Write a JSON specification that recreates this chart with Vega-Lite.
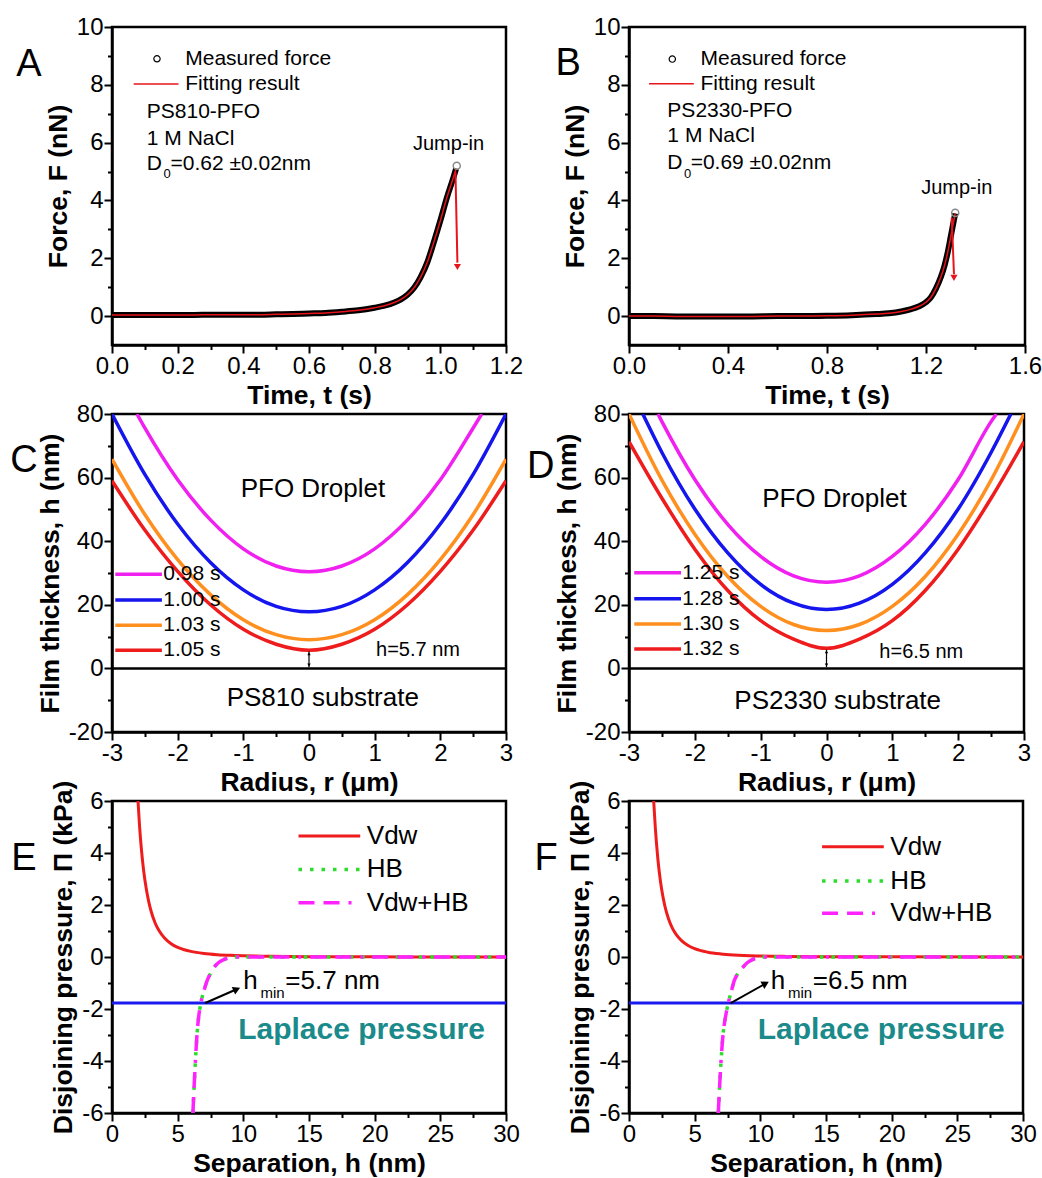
{
"$schema": "https://vega.github.io/schema/vega-lite/v6.json",
"background": "white",
"padding": {"left": 9, "top": 13, "right": 5, "bottom": 5},
"columns": 2,
"spacing": {"row": 69, "column": 123},
"bounds": "flush",
"resolve": {"scale": {"color": "independent"}},
"config": {
  "font": "Liberation Sans",
  "view": {"stroke": "black", "strokeWidth": 2.5},
  "axis": {"domainColor": "black", "domainWidth": 2.5, "tickColor": "black", "tickWidth": 2, "labelColor": "black", "labelFont": "Liberation Sans", "labelFontSize": 24, "labelPadding": 1, "titleFont": "Liberation Sans", "titleFontSize": 26.5, "titleFontWeight": "bold", "titleColor": "black", "grid": false, "labelFlush": false, "labelOverlap": false, "titlePadding": 4}
},
"concat": [
{
  "width": 394, "height": 318,
  "encoding": {
    "x": {"field": "x", "type": "quantitative", "scale": {"domain": [0, 1.2], "nice": false, "zero": false},
      "axis": {"title": "Time, t (s)", "values": [0,0.1,0.2,0.3,0.4,0.5,0.6,0.7,0.8,0.9,1,1.1,1.2],
        "labelExpr": "abs(datum.value*5 - round(datum.value*5)) < 0.01 ? format(datum.value, '.1f') : ''",
        "tickSize": {"condition": {"test": "abs(datum.value*5 - round(datum.value*5)) < 0.01", "value": 8}, "value": 4.5}}},
    "y": {"field": "y", "type": "quantitative", "scale": {"domain": [-1, 10], "nice": false, "zero": false},
      "axis": {"title": "Force, F (nN)", "values": [0,1,2,3,4,5,6,7,8,9,10],
        "labelExpr": "datum.value % 2 == 0 ? '' + datum.value : ''",
        "tickSize": {"condition": {"test": "datum.value % 2 == 0", "value": 8}, "value": 4.5}}}
  },
  "layer": [
    {"data": {"values": [{"x":0,"y":0.04},{"x":0.05,"y":0.04},{"x":0.1,"y":0.04},{"x":0.15,"y":0.04},{"x":0.2,"y":0.04},{"x":0.25,"y":0.04},{"x":0.3,"y":0.05},{"x":0.35,"y":0.05},{"x":0.4,"y":0.05},{"x":0.45,"y":0.05},{"x":0.5,"y":0.06},{"x":0.55,"y":0.07},{"x":0.6,"y":0.09},{"x":0.65,"y":0.11},{"x":0.7,"y":0.15},{"x":0.75,"y":0.2},{"x":0.8,"y":0.29},{"x":0.83,"y":0.36},{"x":0.86,"y":0.47},{"x":0.88,"y":0.58},{"x":0.9,"y":0.74},{"x":0.92,"y":0.98},{"x":0.94,"y":1.35},{"x":0.96,"y":1.85},{"x":0.98,"y":2.55},{"x":1.0,"y":3.3},{"x":1.02,"y":4.1},{"x":1.04,"y":4.8},{"x":1.048,"y":5.1}]},
     "layer": [
       {"mark": {"type": "line", "color": "black", "strokeWidth": 6, "interpolate": "monotone"}},
       {"mark": {"type": "line", "color": "#e8141c", "strokeWidth": 1.5, "interpolate": "monotone"}}
     ]},
    {"data": {"values": [{"x":1.05,"y":5.2}]}, "mark": {"type": "point", "shape": "circle", "filled": false, "color": "#888888", "size": 50, "strokeWidth": 1.5, "opacity": 1}},
    {"data": {"values": [{"x":1.046,"y":5.0,"x2":1.052,"y2":1.85}]}, "mark": {"type": "rule", "color": "#e8141c", "strokeWidth": 2}, "encoding": {"x2": {"field": "x2"}, "y2": {"field": "y2"}}},
    {"data": {"values": [{"x":1.052,"y":1.7}]}, "mark": {"type": "point", "shape": "triangle-down", "filled": true, "color": "#e8141c", "size": 50, "opacity": 1}},
    {"data": {"values": [{"x":0.137,"y":8.9}]}, "mark": {"type": "point", "shape": "circle", "filled": false, "color": "black", "size": 40, "strokeWidth": 1.2, "opacity": 1}},
    {"data": {"values": [{"x":0.066,"x2":0.2025,"y":8.03}]}, "mark": {"type": "rule", "color": "#e8141c", "strokeWidth": 1.5}, "encoding": {"x2": {"field": "x2"}}},
    {"data": {"values": [{"x":0.223,"y":8.9,"t":"Measured force"},{"x":0.223,"y":8.03,"t":"Fitting result"},{"x":0.106,"y":7.05,"t":"PS810-PFO"},{"x":0.106,"y":6.13,"t":"1 M NaCl"},{"x":0.106,"y":5.26,"t":"D"},{"x":0.178,"y":5.26,"t":"=0.62 ±0.02nm"}]},
     "mark": {"type": "text", "align": "left", "baseline": "middle", "fontSize": 21, "color": "black"}, "encoding": {"text": {"field": "t"}}},
    {"data": {"values": [{"x":0.157,"y":4.93,"t":"0"}]}, "mark": {"type": "text", "align": "left", "baseline": "middle", "fontSize": 13, "color": "black"}, "encoding": {"text": {"field": "t"}}},
    {"data": {"values": [{"x":1.025,"y":5.95,"t":"Jump-in"}]}, "mark": {"type": "text", "align": "center", "baseline": "middle", "fontSize": 20, "color": "black"}, "encoding": {"text": {"field": "t"}}},
    {"data": {"values": [{"x":-0.253,"y":8.69,"t":"A"}]}, "mark": {"type": "text", "align": "center", "baseline": "middle", "fontSize": 38, "color": "black"}, "encoding": {"text": {"field": "t"}}}
  ]
},
{
  "width": 396, "height": 318,
  "encoding": {
    "x": {"field": "x", "type": "quantitative", "scale": {"domain": [0, 1.6], "nice": false, "zero": false},
      "axis": {"title": "Time, t (s)", "values": [0,0.2,0.4,0.6,0.8,1,1.2,1.4,1.6],
        "labelExpr": "abs(datum.value*2.5 - round(datum.value*2.5)) < 0.01 ? format(datum.value, '.1f') : ''",
        "tickSize": {"condition": {"test": "abs(datum.value*2.5 - round(datum.value*2.5)) < 0.01", "value": 8}, "value": 4.5}}},
    "y": {"field": "y", "type": "quantitative", "scale": {"domain": [-1, 10], "nice": false, "zero": false},
      "axis": {"title": "Force, F (nN)", "values": [0,1,2,3,4,5,6,7,8,9,10],
        "labelExpr": "datum.value % 2 == 0 ? '' + datum.value : ''",
        "tickSize": {"condition": {"test": "datum.value % 2 == 0", "value": 8}, "value": 4.5}}}
  },
  "layer": [
    {"data": {"values": [{"x":0,"y":0.0},{"x":0.1,"y":0.0},{"x":0.2,"y":-0.01},{"x":0.3,"y":-0.01},{"x":0.4,"y":-0.01},{"x":0.5,"y":-0.01},{"x":0.6,"y":0.0},{"x":0.7,"y":0.0},{"x":0.8,"y":0.01},{"x":0.9,"y":0.03},{"x":1.0,"y":0.07},{"x":1.05,"y":0.1},{"x":1.1,"y":0.16},{"x":1.14,"y":0.24},{"x":1.17,"y":0.33},{"x":1.2,"y":0.48},{"x":1.22,"y":0.65},{"x":1.24,"y":0.95},{"x":1.26,"y":1.35},{"x":1.275,"y":1.75},{"x":1.29,"y":2.3},{"x":1.3,"y":2.75},{"x":1.31,"y":3.2},{"x":1.318,"y":3.55}]},
     "layer": [
       {"mark": {"type": "line", "color": "black", "strokeWidth": 6, "interpolate": "monotone"}},
       {"mark": {"type": "line", "color": "#e8141c", "strokeWidth": 1.5, "interpolate": "monotone"}}
     ]},
    {"data": {"values": [{"x":1.318,"y":3.57}]}, "mark": {"type": "point", "shape": "circle", "filled": false, "color": "#888888", "size": 50, "strokeWidth": 1.5, "opacity": 1}},
    {"data": {"values": [{"x":1.304,"y":3.4,"x2":1.313,"y2":1.45}]}, "mark": {"type": "rule", "color": "#e8141c", "strokeWidth": 2}, "encoding": {"x2": {"field": "x2"}, "y2": {"field": "y2"}}},
    {"data": {"values": [{"x":1.313,"y":1.32}]}, "mark": {"type": "point", "shape": "triangle-down", "filled": true, "color": "#e8141c", "size": 50, "opacity": 1}},
    {"data": {"values": [{"x":0.175,"y":8.89}]}, "mark": {"type": "point", "shape": "circle", "filled": false, "color": "black", "size": 40, "strokeWidth": 1.2, "opacity": 1}},
    {"data": {"values": [{"x":0.081,"x2":0.262,"y":8.04}]}, "mark": {"type": "rule", "color": "#e8141c", "strokeWidth": 1.5}, "encoding": {"x2": {"field": "x2"}}},
    {"data": {"values": [{"x":0.289,"y":8.89,"t":"Measured force"},{"x":0.289,"y":8.04,"t":"Fitting result"},{"x":0.155,"y":7.09,"t":"PS2330-PFO"},{"x":0.155,"y":6.22,"t":"1 M NaCl"},{"x":0.155,"y":5.3,"t":"D"},{"x":0.249,"y":5.3,"t":"=0.69 ±0.02nm"}]},
     "mark": {"type": "text", "align": "left", "baseline": "middle", "fontSize": 21, "color": "black"}, "encoding": {"text": {"field": "t"}}},
    {"data": {"values": [{"x":0.222,"y":4.9,"t":"0"}]}, "mark": {"type": "text", "align": "left", "baseline": "middle", "fontSize": 13, "color": "black"}, "encoding": {"text": {"field": "t"}}},
    {"data": {"values": [{"x":1.324,"y":4.44,"t":"Jump-in"}]}, "mark": {"type": "text", "align": "center", "baseline": "middle", "fontSize": 20, "color": "black"}, "encoding": {"text": {"field": "t"}}},
    {"data": {"values": [{"x":-0.246,"y":8.72,"t":"B"}]}, "mark": {"type": "text", "align": "center", "baseline": "middle", "fontSize": 38, "color": "black"}, "encoding": {"text": {"field": "t"}}}
  ]
},
{
  "width": 394, "height": 318,
  "encoding": {
    "x": {"field": "x", "type": "quantitative", "scale": {"domain": [-3, 3], "nice": false, "zero": false},
      "axis": {"title": "Radius, r (μm)", "values": [-3,-2.5,-2,-1.5,-1,-0.5,0,0.5,1,1.5,2,2.5,3],
        "labelExpr": "datum.value % 1 == 0 ? '' + datum.value : ''",
        "tickSize": {"condition": {"test": "datum.value % 1 == 0", "value": 8}, "value": 4.5}}},
    "y": {"field": "y", "type": "quantitative", "scale": {"domain": [-20, 80], "nice": false, "zero": false},
      "axis": {"title": "Film thickness, h (nm)", "values": [-20,-10,0,10,20,30,40,50,60,70,80],
        "labelExpr": "datum.value % 20 == 0 ? '' + datum.value : ''",
        "tickSize": {"condition": {"test": "datum.value % 20 == 0", "value": 8}, "value": 4.5}}}
  },
  "layer": [
    {"data": {"values": [{"x":-3,"x2":3,"y":0}]}, "mark": {"type": "rule", "color": "black", "strokeWidth": 2.5}, "encoding": {"x2": {"field": "x2"}}},
    {"data": {"values": [
      {"x":-2.62,"y":80,"s":"0.98 s"},{"x":-2.5,"y":75.6,"s":"0.98 s"},{"x":-2,"y":59.3,"s":"0.98 s"},{"x":-1.5,"y":46.7,"s":"0.98 s"},{"x":-1,"y":37.6,"s":"0.98 s"},{"x":-0.5,"y":32.2,"s":"0.98 s"},{"x":0,"y":30.4,"s":"0.98 s"},{"x":0.5,"y":32.2,"s":"0.98 s"},{"x":1,"y":37.6,"s":"0.98 s"},{"x":1.5,"y":46.7,"s":"0.98 s"},{"x":2,"y":59.3,"s":"0.98 s"},{"x":2.5,"y":75.6,"s":"0.98 s"},{"x":2.63,"y":80,"s":"0.98 s"},
      {"x":-3,"y":80,"s":"1.00 s"},{"x":-2.5,"y":61.0,"s":"1.00 s"},{"x":-2,"y":45.4,"s":"1.00 s"},{"x":-1.5,"y":33.3,"s":"1.00 s"},{"x":-1,"y":24.7,"s":"1.00 s"},{"x":-0.5,"y":19.5,"s":"1.00 s"},{"x":0,"y":17.8,"s":"1.00 s"},{"x":0.5,"y":19.5,"s":"1.00 s"},{"x":1,"y":24.7,"s":"1.00 s"},{"x":1.5,"y":33.3,"s":"1.00 s"},{"x":2,"y":45.4,"s":"1.00 s"},{"x":2.5,"y":61.0,"s":"1.00 s"},{"x":3,"y":80,"s":"1.00 s"},
      {"x":-3,"y":65.8,"s":"1.03 s"},{"x":-2.5,"y":48.4,"s":"1.03 s"},{"x":-2,"y":34.2,"s":"1.03 s"},{"x":-1.5,"y":23.2,"s":"1.03 s"},{"x":-1,"y":15.3,"s":"1.03 s"},{"x":-0.5,"y":10.6,"s":"1.03 s"},{"x":0,"y":9.0,"s":"1.03 s"},{"x":0.5,"y":10.6,"s":"1.03 s"},{"x":1,"y":15.3,"s":"1.03 s"},{"x":1.5,"y":23.2,"s":"1.03 s"},{"x":2,"y":34.2,"s":"1.03 s"},{"x":2.5,"y":48.4,"s":"1.03 s"},{"x":3,"y":65.8,"s":"1.03 s"},
      {"x":-3,"y":59.0,"s":"1.05 s"},{"x":-2.5,"y":43.5,"s":"1.05 s"},{"x":-2,"y":30.5,"s":"1.05 s"},{"x":-1.5,"y":20.0,"s":"1.05 s"},{"x":-1,"y":12.3,"s":"1.05 s"},{"x":-0.5,"y":7.6,"s":"1.05 s"},{"x":0,"y":5.7,"s":"1.05 s"},{"x":0.5,"y":7.6,"s":"1.05 s"},{"x":1,"y":12.3,"s":"1.05 s"},{"x":1.5,"y":20.0,"s":"1.05 s"},{"x":2,"y":30.5,"s":"1.05 s"},{"x":2.5,"y":43.5,"s":"1.05 s"},{"x":3,"y":59.0,"s":"1.05 s"}
    ]},
     "mark": {"type": "line", "strokeWidth": 3.5, "interpolate": "monotone", "clip": true},
     "encoding": {"color": {"field": "s", "type": "nominal", "legend": null, "scale": {"domain": ["0.98 s","1.00 s","1.03 s","1.05 s"], "range": ["#f020f0","#1515ee","#ff9020","#ee1c1c"]}}}},
    {"data": {"values": [{"x":-2.95,"x2":-2.24,"y":29.6,"s":"0.98 s"},{"x":-2.95,"x2":-2.24,"y":21.5,"s":"1.00 s"},{"x":-2.95,"x2":-2.24,"y":13.6,"s":"1.03 s"},{"x":-2.95,"x2":-2.24,"y":5.7,"s":"1.05 s"}]},
     "mark": {"type": "rule", "strokeWidth": 3.5},
     "encoding": {"x2": {"field": "x2"}, "color": {"field": "s", "type": "nominal", "legend": null, "scale": {"domain": ["0.98 s","1.00 s","1.03 s","1.05 s"], "range": ["#f020f0","#1515ee","#ff9020","#ee1c1c"]}}}},
    {"data": {"values": [{"x":-2.22,"y":29.6,"t":"0.98 s"},{"x":-2.22,"y":21.5,"t":"1.00 s"},{"x":-2.22,"y":13.6,"t":"1.03 s"},{"x":-2.22,"y":5.7,"t":"1.05 s"}]},
     "mark": {"type": "text", "align": "left", "baseline": "middle", "fontSize": 21, "color": "black"}, "encoding": {"text": {"field": "t"}}},
    {"data": {"values": [{"x":0.06,"y":56.4,"t":"PFO Droplet"},{"x":0.21,"y":-9.2,"t":"PS810 substrate"}]},
     "mark": {"type": "text", "align": "center", "baseline": "middle", "fontSize": 26, "color": "black"}, "encoding": {"text": {"field": "t"}}},
    {"data": {"values": [{"x":1.66,"y":5.7,"t":"h=5.7 nm"}]},
     "mark": {"type": "text", "align": "center", "baseline": "middle", "fontSize": 20, "color": "black"}, "encoding": {"text": {"field": "t"}}},
    {"data": {"values": [{"x":0,"x2":0,"y":0.4,"y2":5.3}]}, "mark": {"type": "rule", "color": "black", "strokeWidth": 1.2}, "encoding": {"x2": {"field": "x2"}, "y2": {"field": "y2"}}},
    {"data": {"values": [{"x":0,"y":4.6}]}, "mark": {"type": "point", "shape": "triangle-up", "filled": true, "color": "black", "size": 12, "opacity": 1}},
    {"data": {"values": [{"x":0,"y":1.1}]}, "mark": {"type": "point", "shape": "triangle-down", "filled": true, "color": "black", "size": 12, "opacity": 1}},
    {"data": {"values": [{"x":-4.34,"y":65.2,"t":"C"}]}, "mark": {"type": "text", "align": "center", "baseline": "middle", "fontSize": 38, "color": "black"}, "encoding": {"text": {"field": "t"}}}
  ]
},
{
  "width": 395, "height": 318,
  "encoding": {
    "x": {"field": "x", "type": "quantitative", "scale": {"domain": [-3, 3], "nice": false, "zero": false},
      "axis": {"title": "Radius, r (μm)", "values": [-3,-2.5,-2,-1.5,-1,-0.5,0,0.5,1,1.5,2,2.5,3],
        "labelExpr": "datum.value % 1 == 0 ? '' + datum.value : ''",
        "tickSize": {"condition": {"test": "datum.value % 1 == 0", "value": 8}, "value": 4.5}}},
    "y": {"field": "y", "type": "quantitative", "scale": {"domain": [-20, 80], "nice": false, "zero": false},
      "axis": {"title": "Film thickness, h (nm)", "values": [-20,-10,0,10,20,30,40,50,60,70,80],
        "labelExpr": "datum.value % 20 == 0 ? '' + datum.value : ''",
        "tickSize": {"condition": {"test": "datum.value % 20 == 0", "value": 8}, "value": 4.5}}}
  },
  "layer": [
    {"data": {"values": [{"x":-3,"x2":3,"y":0}]}, "mark": {"type": "rule", "color": "black", "strokeWidth": 2.5}, "encoding": {"x2": {"field": "x2"}}},
    {"data": {"values": [
      {"x":-2.56,"y":80,"s":"1.25 s"},{"x":-2.5,"y":77.6,"s":"1.25 s"},{"x":-2,"y":59.4,"s":"1.25 s"},{"x":-1.5,"y":45.3,"s":"1.25 s"},{"x":-1,"y":35.2,"s":"1.25 s"},{"x":-0.5,"y":29.1,"s":"1.25 s"},{"x":0,"y":27.1,"s":"1.25 s"},{"x":0.5,"y":29.1,"s":"1.25 s"},{"x":1,"y":35.2,"s":"1.25 s"},{"x":1.5,"y":45.3,"s":"1.25 s"},{"x":2,"y":59.4,"s":"1.25 s"},{"x":2.5,"y":77.6,"s":"1.25 s"},{"x":2.58,"y":80,"s":"1.25 s"},
      {"x":-2.79,"y":80,"s":"1.28 s"},{"x":-2.5,"y":67.9,"s":"1.28 s"},{"x":-2,"y":50.1,"s":"1.28 s"},{"x":-1.5,"y":36.3,"s":"1.28 s"},{"x":-1,"y":26.4,"s":"1.28 s"},{"x":-0.5,"y":20.5,"s":"1.28 s"},{"x":0,"y":18.5,"s":"1.28 s"},{"x":0.5,"y":20.5,"s":"1.28 s"},{"x":1,"y":26.4,"s":"1.28 s"},{"x":1.5,"y":36.3,"s":"1.28 s"},{"x":2,"y":50.1,"s":"1.28 s"},{"x":2.5,"y":67.9,"s":"1.28 s"},{"x":2.8,"y":80,"s":"1.28 s"},
      {"x":-3,"y":80,"s":"1.30 s"},{"x":-2.5,"y":59.2,"s":"1.30 s"},{"x":-2,"y":42.2,"s":"1.30 s"},{"x":-1.5,"y":28.9,"s":"1.30 s"},{"x":-1,"y":19.5,"s":"1.30 s"},{"x":-0.5,"y":13.8,"s":"1.30 s"},{"x":0,"y":11.9,"s":"1.30 s"},{"x":0.5,"y":13.8,"s":"1.30 s"},{"x":1,"y":19.5,"s":"1.30 s"},{"x":1.5,"y":28.9,"s":"1.30 s"},{"x":2,"y":42.2,"s":"1.30 s"},{"x":2.5,"y":59.2,"s":"1.30 s"},{"x":3,"y":80,"s":"1.30 s"},
      {"x":-3,"y":71.3,"s":"1.32 s"},{"x":-2.5,"y":53.5,"s":"1.32 s"},{"x":-2,"y":37.5,"s":"1.32 s"},{"x":-1.5,"y":24.5,"s":"1.32 s"},{"x":-1,"y":15.0,"s":"1.32 s"},{"x":-0.5,"y":9.2,"s":"1.32 s"},{"x":0,"y":6.3,"s":"1.32 s"},{"x":0.5,"y":9.2,"s":"1.32 s"},{"x":1,"y":15.0,"s":"1.32 s"},{"x":1.5,"y":24.5,"s":"1.32 s"},{"x":2,"y":37.5,"s":"1.32 s"},{"x":2.5,"y":53.5,"s":"1.32 s"},{"x":3,"y":71.3,"s":"1.32 s"}
    ]},
     "mark": {"type": "line", "strokeWidth": 3.5, "interpolate": "monotone", "clip": true},
     "encoding": {"color": {"field": "s", "type": "nominal", "legend": null, "scale": {"domain": ["1.25 s","1.28 s","1.30 s","1.32 s"], "range": ["#f020f0","#1515ee","#ff9020","#ee1c1c"]}}}},
    {"data": {"values": [{"x":-2.92,"x2":-2.21,"y":30.1,"s":"1.25 s"},{"x":-2.92,"x2":-2.21,"y":21.9,"s":"1.28 s"},{"x":-2.92,"x2":-2.21,"y":14.0,"s":"1.30 s"},{"x":-2.92,"x2":-2.21,"y":6.1,"s":"1.32 s"}]},
     "mark": {"type": "rule", "strokeWidth": 3.5},
     "encoding": {"x2": {"field": "x2"}, "color": {"field": "s", "type": "nominal", "legend": null, "scale": {"domain": ["1.25 s","1.28 s","1.30 s","1.32 s"], "range": ["#f020f0","#1515ee","#ff9020","#ee1c1c"]}}}},
    {"data": {"values": [{"x":-2.19,"y":30.1,"t":"1.25 s"},{"x":-2.19,"y":21.9,"t":"1.28 s"},{"x":-2.19,"y":14.0,"t":"1.30 s"},{"x":-2.19,"y":6.1,"t":"1.32 s"}]},
     "mark": {"type": "text", "align": "left", "baseline": "middle", "fontSize": 21, "color": "black"}, "encoding": {"text": {"field": "t"}}},
    {"data": {"values": [{"x":0.12,"y":53.4,"t":"PFO Droplet"},{"x":0.17,"y":-10.2,"t":"PS2330 substrate"}]},
     "mark": {"type": "text", "align": "center", "baseline": "middle", "fontSize": 26, "color": "black"}, "encoding": {"text": {"field": "t"}}},
    {"data": {"values": [{"x":1.44,"y":5.3,"t":"h=6.5 nm"}]},
     "mark": {"type": "text", "align": "center", "baseline": "middle", "fontSize": 20, "color": "black"}, "encoding": {"text": {"field": "t"}}},
    {"data": {"values": [{"x":0,"x2":0,"y":0.4,"y2":5.9}]}, "mark": {"type": "rule", "color": "black", "strokeWidth": 1.2}, "encoding": {"x2": {"field": "x2"}, "y2": {"field": "y2"}}},
    {"data": {"values": [{"x":0,"y":5.2}]}, "mark": {"type": "point", "shape": "triangle-up", "filled": true, "color": "black", "size": 12, "opacity": 1}},
    {"data": {"values": [{"x":0,"y":1.1}]}, "mark": {"type": "point", "shape": "triangle-down", "filled": true, "color": "black", "size": 12, "opacity": 1}},
    {"data": {"values": [{"x":-4.34,"y":63.3,"t":"D"}]}, "mark": {"type": "text", "align": "center", "baseline": "middle", "fontSize": 38, "color": "black"}, "encoding": {"text": {"field": "t"}}}
  ]
},
{
  "width": 394, "height": 312,
  "encoding": {
    "x": {"field": "x", "type": "quantitative", "scale": {"domain": [0, 30], "nice": false, "zero": false},
      "axis": {"title": "Separation, h (nm)", "values": [0,2.5,5,7.5,10,12.5,15,17.5,20,22.5,25,27.5,30],
        "labelExpr": "datum.value % 5 == 0 ? '' + datum.value : ''",
        "tickSize": {"condition": {"test": "datum.value % 5 == 0", "value": 8}, "value": 4.5}}},
    "y": {"field": "y", "type": "quantitative", "scale": {"domain": [-6, 6], "nice": false, "zero": false},
      "axis": {"title": "Disjoining pressure, Π (kPa)", "values": [-6,-5,-4,-3,-2,-1,0,1,2,3,4,5,6],
        "labelExpr": "datum.value % 2 == 0 ? '' + datum.value : ''",
        "tickSize": {"condition": {"test": "datum.value % 2 == 0", "value": 8}, "value": 4.5}}}
  },
  "layer": [
    {"data": {"values": [{"x":0,"x2":30,"y":-1.77}]}, "mark": {"type": "rule", "color": "#1a1aee", "strokeWidth": 3}, "encoding": {"x2": {"field": "x2"}}},
    {"data": {"values": [{"x":1.98,"y":6.0},{"x":2.1,"y":5.02},{"x":2.25,"y":4.08},{"x":2.4,"y":3.36},{"x":2.6,"y":2.65},{"x":2.8,"y":2.12},{"x":3.0,"y":1.72},{"x":3.3,"y":1.29},{"x":3.6,"y":1.0},{"x":4.0,"y":0.73},{"x":4.5,"y":0.51},{"x":5.0,"y":0.37},{"x":5.5,"y":0.28},{"x":6,"y":0.215},{"x":7,"y":0.136},{"x":8,"y":0.091},{"x":9,"y":0.064},{"x":10,"y":0.047},{"x":12,"y":0.027},{"x":15,"y":0.014},{"x":20,"y":0.006},{"x":25,"y":0.003},{"x":30,"y":0.002}]},
     "mark": {"type": "line", "color": "#ee1c1c", "strokeWidth": 3, "interpolate": "monotone", "clip": true}},
    {"data": {"values": [{"x":6.16,"y":-6},{"x":6.3,"y":-4.5},{"x":6.47,"y":-3.0},{"x":6.6,"y":-2.3},{"x":6.77,"y":-1.76},{"x":7.0,"y":-1.3},{"x":7.23,"y":-0.93},{"x":7.5,"y":-0.63},{"x":7.74,"y":-0.42},{"x":8.1,"y":-0.22},{"x":8.5,"y":-0.1},{"x":9.0,"y":-0.03},{"x":9.5,"y":0},{"x":12,"y":0},{"x":30,"y":0}]},
     "layer": [
       {"mark": {"type": "line", "color": "#2edc2e", "strokeWidth": 3.5, "strokeDash": [3.5, 8], "interpolate": "monotone", "clip": true}},
       {"mark": {"type": "line", "color": "#ff22ff", "strokeWidth": 3.5, "strokeDash": [16, 9, 16, 9, 3, 9], "interpolate": "monotone", "clip": true}}
     ]},
    {"data": {"values": [{"x":14.2,"x2":18.9,"y":4.65}]}, "mark": {"type": "rule", "color": "#ee1c1c", "strokeWidth": 3}, "encoding": {"x2": {"field": "x2"}}},
    {"data": {"values": [{"x":14.2,"x2":18.9,"y":3.37}]}, "mark": {"type": "rule", "color": "#2edc2e", "strokeWidth": 3.5, "strokeDash": [3.5, 8]}, "encoding": {"x2": {"field": "x2"}}},
    {"data": {"values": [{"x":14.2,"x2":18.9,"y":2.09}]}, "mark": {"type": "rule", "color": "#ff22ff", "strokeWidth": 3.5, "strokeDash": [16, 9, 16, 9, 3, 9]}, "encoding": {"x2": {"field": "x2"}}},
    {"data": {"values": [{"x":19.4,"y":4.65,"t":"Vdw"},{"x":19.4,"y":3.37,"t":"HB"},{"x":19.4,"y":2.09,"t":"Vdw+HB"},{"x":10.0,"y":-0.93,"t":"h"},{"x":13.2,"y":-0.93,"t":"=5.7 nm"}]},
     "mark": {"type": "text", "align": "left", "baseline": "middle", "fontSize": 26, "color": "black"}, "encoding": {"text": {"field": "t"}}},
    {"data": {"values": [{"x":11.3,"y":-1.4,"t":"min"}]}, "mark": {"type": "text", "align": "left", "baseline": "middle", "fontSize": 15, "color": "black"}, "encoding": {"text": {"field": "t"}}},
    {"data": {"values": [{"x":7.1,"y":-1.77,"x2":9.4,"y2":-1.26}]}, "mark": {"type": "rule", "color": "black", "strokeWidth": 2}, "encoding": {"x2": {"field": "x2"}, "y2": {"field": "y2"}}},
    {"data": {"values": [{"x":9.5,"y":-1.24}]}, "mark": {"type": "point", "shape": "triangle-right", "angle": 336, "filled": true, "color": "black", "size": 70, "opacity": 1}},
    {"data": {"values": [{"x":19.0,"y":-2.79,"t":"Laplace pressure"}]}, "mark": {"type": "text", "align": "center", "baseline": "middle", "fontSize": 30, "fontWeight": "bold", "color": "#1a8a8a"}, "encoding": {"text": {"field": "t"}}},
    {"data": {"values": [{"x":-6.7,"y":3.77,"t":"E"}]}, "mark": {"type": "text", "align": "center", "baseline": "middle", "fontSize": 38, "color": "black"}, "encoding": {"text": {"field": "t"}}}
  ]
},
{
  "width": 394, "height": 312,
  "encoding": {
    "x": {"field": "x", "type": "quantitative", "scale": {"domain": [0, 30], "nice": false, "zero": false},
      "axis": {"title": "Separation, h (nm)", "values": [0,2.5,5,7.5,10,12.5,15,17.5,20,22.5,25,27.5,30],
        "labelExpr": "datum.value % 5 == 0 ? '' + datum.value : ''",
        "tickSize": {"condition": {"test": "datum.value % 5 == 0", "value": 8}, "value": 4.5}}},
    "y": {"field": "y", "type": "quantitative", "scale": {"domain": [-6, 6], "nice": false, "zero": false},
      "axis": {"title": "Disjoining pressure, Π (kPa)", "values": [-6,-5,-4,-3,-2,-1,0,1,2,3,4,5,6],
        "labelExpr": "datum.value % 2 == 0 ? '' + datum.value : ''",
        "tickSize": {"condition": {"test": "datum.value % 2 == 0", "value": 8}, "value": 4.5}}}
  },
  "layer": [
    {"data": {"values": [{"x":0,"x2":30,"y":-1.77}]}, "mark": {"type": "rule", "color": "#1a1aee", "strokeWidth": 3}, "encoding": {"x2": {"field": "x2"}}},
    {"data": {"values": [{"x":1.88,"y":6.0},{"x":2.0,"y":5.0},{"x":2.2,"y":3.76},{"x":2.4,"y":2.89},{"x":2.6,"y":2.28},{"x":2.8,"y":1.82},{"x":3.0,"y":1.48},{"x":3.3,"y":1.11},{"x":3.6,"y":0.86},{"x":4.0,"y":0.63},{"x":4.5,"y":0.44},{"x":5.0,"y":0.32},{"x":6,"y":0.185},{"x":7,"y":0.117},{"x":8,"y":0.078},{"x":10,"y":0.04},{"x":12,"y":0.023},{"x":15,"y":0.012},{"x":20,"y":0.005},{"x":30,"y":0.001}]},
     "mark": {"type": "line", "color": "#ee1c1c", "strokeWidth": 3, "interpolate": "monotone", "clip": true}},
    {"data": {"values": [{"x":6.8,"y":-6},{"x":6.95,"y":-4.5},{"x":7.16,"y":-2.98},{"x":7.35,"y":-2.3},{"x":7.56,"y":-1.77},{"x":7.8,"y":-1.3},{"x":8.0,"y":-0.93},{"x":8.3,"y":-0.63},{"x":8.63,"y":-0.42},{"x":9.0,"y":-0.22},{"x":9.39,"y":-0.1},{"x":9.8,"y":-0.03},{"x":10.2,"y":0},{"x":12,"y":0},{"x":30,"y":0}]},
     "layer": [
       {"mark": {"type": "line", "color": "#2edc2e", "strokeWidth": 3.5, "strokeDash": [3.5, 8], "interpolate": "monotone", "clip": true}},
       {"mark": {"type": "line", "color": "#ff22ff", "strokeWidth": 3.5, "strokeDash": [16, 9, 16, 9, 3, 9], "interpolate": "monotone", "clip": true}}
     ]},
    {"data": {"values": [{"x":14.7,"x2":19.4,"y":4.24}]}, "mark": {"type": "rule", "color": "#ee1c1c", "strokeWidth": 3}, "encoding": {"x2": {"field": "x2"}}},
    {"data": {"values": [{"x":14.7,"x2":19.4,"y":2.92}]}, "mark": {"type": "rule", "color": "#2edc2e", "strokeWidth": 3.5, "strokeDash": [3.5, 8]}, "encoding": {"x2": {"field": "x2"}}},
    {"data": {"values": [{"x":14.7,"x2":19.4,"y":1.68}]}, "mark": {"type": "rule", "color": "#ff22ff", "strokeWidth": 3.5, "strokeDash": [16, 9, 16, 9, 3, 9]}, "encoding": {"x2": {"field": "x2"}}},
    {"data": {"values": [{"x":19.9,"y":4.24,"t":"Vdw"},{"x":19.9,"y":2.92,"t":"HB"},{"x":19.9,"y":1.68,"t":"Vdw+HB"},{"x":10.8,"y":-0.93,"t":"h"},{"x":14.0,"y":-0.93,"t":"=6.5 nm"}]},
     "mark": {"type": "text", "align": "left", "baseline": "middle", "fontSize": 26, "color": "black"}, "encoding": {"text": {"field": "t"}}},
    {"data": {"values": [{"x":12.1,"y":-1.4,"t":"min"}]}, "mark": {"type": "text", "align": "left", "baseline": "middle", "fontSize": 15, "color": "black"}, "encoding": {"text": {"field": "t"}}},
    {"data": {"values": [{"x":7.74,"y":-1.77,"x2":10.3,"y2":-1.05}]}, "mark": {"type": "rule", "color": "black", "strokeWidth": 2}, "encoding": {"x2": {"field": "x2"}, "y2": {"field": "y2"}}},
    {"data": {"values": [{"x":10.4,"y":-1.02}]}, "mark": {"type": "point", "shape": "triangle-right", "angle": 332, "filled": true, "color": "black", "size": 70, "opacity": 1}},
    {"data": {"values": [{"x":19.2,"y":-2.79,"t":"Laplace pressure"}]}, "mark": {"type": "text", "align": "center", "baseline": "middle", "fontSize": 30, "fontWeight": "bold", "color": "#1a8a8a"}, "encoding": {"text": {"field": "t"}}},
    {"data": {"values": [{"x":-6.32,"y":3.77,"t":"F"}]}, "mark": {"type": "text", "align": "center", "baseline": "middle", "fontSize": 38, "color": "black"}, "encoding": {"text": {"field": "t"}}}
  ]
}
]
}
